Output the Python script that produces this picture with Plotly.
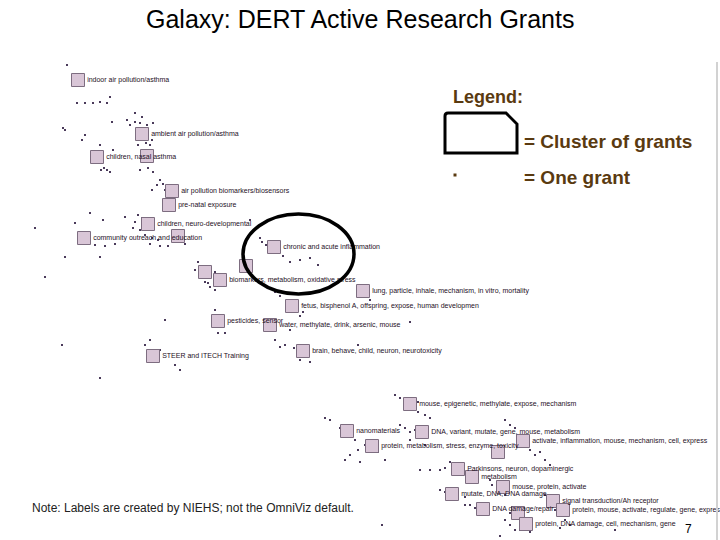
import plotly.graph_objects as go

# ---- cluster data (galaxy map coordinates, y grows downward) ----
cluster_x = [78, 142, 97, 147, 172, 169, 148, 84, 178, 274, 205, 220, 246, 363, 292, 218, 270,
             153, 303, 410, 347, 422, 372, 523, 498, 458, 472, 503, 452, 483, 553, 563, 518, 526]
cluster_y = [80, 134, 157, 156, 191, 205, 224, 238, 236, 247, 272, 280, 266, 291, 306, 321, 325,
             356, 351, 404, 431, 432, 446, 441, 452, 469, 477, 487, 494, 509, 501, 510, 513, 524]
cluster_labels = [
    "indoor air pollution/asthma", "ambient air pollution/asthma", "children, nasal asthma", "",
    "air pollution biomarkers/biosensors", "pre-natal exposure", "children, neuro-developmental",
    "community outreach and education", "", "chronic and acute inflammation",
    "", "biomarkers, metabolism, oxidative stress", "",
    "lung, particle, inhale, mechanism, in vitro, mortality",
    "fetus, bisphenol A, offspring, expose, human developmen",
    "pesticides, sensor", "water, methylate, drink, arsenic, mouse",
    "STEER and ITECH Training", "brain, behave, child, neuron, neurotoxicity",
    "mouse, epigenetic, methylate, expose, mechanism", "nanomaterials",
    "DNA, variant, mutate, gene, mouse, metabolism",
    "protein, metabolism, stress, enzyme, toxicity",
    "activate, inflammation, mouse, mechanism, cell, express", "",
    "Parkinsons, neuron, dopaminergic", "metabolism", "mouse, protein, activate",
    "mutate, DNA, DNA damage", "DNA damage/repair", "signal transduction/Ah receptor",
    "protein, mouse, activate, regulate, gene, expres", "",
    "protein, DNA damage, cell, mechanism, gene",
]

# ---- individual grants (dots) ----
grant_x = [67, 77, 85, 93, 100, 107, 110, 135, 127, 142, 130, 135, 140, 147, 153, 152, 150, 146,
           138, 137, 65, 85, 100, 101, 104, 107, 110, 140, 148, 153, 160, 163, 165, 157, 152,
           35, 75, 90, 103, 65, 100, 45, 62, 100, 112, 63, 82, 113,
           138, 142, 135, 140, 145, 152, 158, 133, 95, 105, 115, 150, 160, 168, 185, 125, 250,
           260, 262, 266, 283, 290, 300, 318, 310, 198, 195, 205, 210, 215, 225,
           275, 280, 290, 295, 300, 215, 218, 225, 165, 290, 275, 280, 285, 294, 300, 310,
           175, 180, 145, 150, 160, 358, 410, 370,
           395, 400, 405, 418, 425, 430, 400, 405, 410, 325, 330, 340, 355, 358, 350, 345, 360,
           420, 430, 440, 415, 410, 425, 365, 378, 385, 505, 510, 515, 530, 535, 540, 545, 550,
           445, 450, 490, 492, 498, 505, 440, 445, 455, 465, 470, 475, 505, 510, 520, 530, 515,
           560, 615, 545, 548, 555, 565, 570, 382, 500, 296, 303, 268, 414, 418, 425, 375, 460,
           465, 510, 520, 555, 215, 221, 208]
grant_y = [65, 103, 103, 103, 102, 103, 97, 113, 120, 117, 125, 122, 123, 125, 123, 140, 145, 143,
           145, 140, 130, 135, 145, 170, 168, 170, 172, 170, 168, 172, 180, 184, 190, 185, 190,
           228, 223, 213, 220, 257, 257, 277, 345, 378, 122, 128, 140, 150,
           215, 218, 222, 230, 235, 238, 240, 228, 245, 246, 244, 244, 246, 246, 244, 217, 220,
           238, 242, 245, 256, 262, 260, 265, 258, 262, 270, 282, 287, 290, 282,
           292, 296, 300, 312, 316, 310, 333, 333, 320, 330, 340, 347, 345, 348, 360, 362,
           365, 370, 345, 340, 350, 345, 322, 300,
           395, 398, 400, 412, 415, 418, 425, 428, 432, 418, 420, 428, 440, 450, 455, 460, 462,
           470, 470, 470, 430, 440, 445, 445, 452, 460, 420, 425, 428, 450, 455, 452, 460, 465,
           468, 462, 480, 485, 488, 495, 490, 492, 500, 505, 505, 508, 520, 525, 530, 532, 530,
           528, 530, 495, 505, 510, 520, 525, 525, 536, 308, 312, 250, 408, 402, 437, 452, 473,
           497, 513, 518, 506, 272, 276, 283]

FONT = "Arial, Liberation Sans, sans-serif"
LABEL_FONT = dict(family=FONT, size=7, color="#1e0f1e")
LEGEND_COLOR = "#5a3a10"

fig = go.Figure()

fig.add_trace(go.Scatter(
    x=grant_x, y=grant_y, mode="markers",
    marker=dict(symbol="square", size=2, color="#4a3a5a", line=dict(width=0)),
    hoverinfo="skip", showlegend=False,
))

fig.add_trace(go.Scatter(
    x=cluster_x, y=cluster_y, mode="markers+text",
    text=cluster_labels, textposition="middle right", textfont=LABEL_FONT,
    marker=dict(symbol="square", size=13, color="#d9c6d7",
                line=dict(color="#7d6d80", width=1)),
    hoverinfo="text", showlegend=False,
))

# legend dot ("one grant")
fig.add_trace(go.Scatter(
    x=[455], y=[175], mode="markers",
    marker=dict(symbol="square", size=3, color=LEGEND_COLOR, line=dict(width=0)),
    hoverinfo="skip", showlegend=False,
))

shapes = [
    dict(type="circle", xref="x", yref="y", x0=243, x1=354, y0=214, y1=294,
         line=dict(color="black", width=3.5)),
    dict(type="path", xref="x", yref="y",
         path="M 448,113 L 506,113 L 517,124 L 517,153 L 445,153 L 445,116 Q 445,113 448,113 Z",
         line=dict(color="black", width=3), fillcolor="white"),
    dict(type="line", xref="x", yref="y", x0=717, x1=717, y0=62, y1=540,
         line=dict(color="#d2d2d2", width=2)),
]

annotations = [
    dict(text="Galaxy: DERT Active Research Grants", x=360, y=19, xref="x", yref="y",
         showarrow=False, xanchor="center", yanchor="middle",
         font=dict(family=FONT, size=25, color="black")),
    dict(text="<b>Legend:</b>", x=451, y=97, xref="x", yref="y", showarrow=False,
         xanchor="left", yanchor="middle",
         font=dict(family=FONT, size=18, color=LEGEND_COLOR)),
    dict(text="<b>= Cluster of grants</b>", x=522, y=141, xref="x", yref="y", showarrow=False,
         xanchor="left", yanchor="middle",
         font=dict(family=FONT, size=19, color=LEGEND_COLOR)),
    dict(text="<b>= One grant</b>", x=522, y=177, xref="x", yref="y", showarrow=False,
         xanchor="left", yanchor="middle",
         font=dict(family=FONT, size=19, color=LEGEND_COLOR)),
    dict(text="Note: Labels are created by NIEHS; not the OmniViz default.", x=30, y=508,
         xref="x", yref="y", showarrow=False, xanchor="left", yanchor="middle",
         font=dict(family=FONT, size=12, color="#222222")),
    dict(text="7", x=688, y=529, xref="x", yref="y", showarrow=False,
         xanchor="center", yanchor="middle",
         font=dict(family=FONT, size=12, color="black")),
]

fig.update_layout(
    width=720, height=540,
    margin=dict(l=0, r=0, t=0, b=0),
    paper_bgcolor="white", plot_bgcolor="white",
    xaxis=dict(range=[0, 720], visible=False, fixedrange=True),
    yaxis=dict(range=[540, 0], visible=False, fixedrange=True),
    shapes=shapes, annotations=annotations,
    showlegend=False,
)

fig.write_html(
    "out.html",
    config={"displayModeBar": False},
    post_script="document.body.style.margin='0';document.body.style.overflow='hidden';",
)
